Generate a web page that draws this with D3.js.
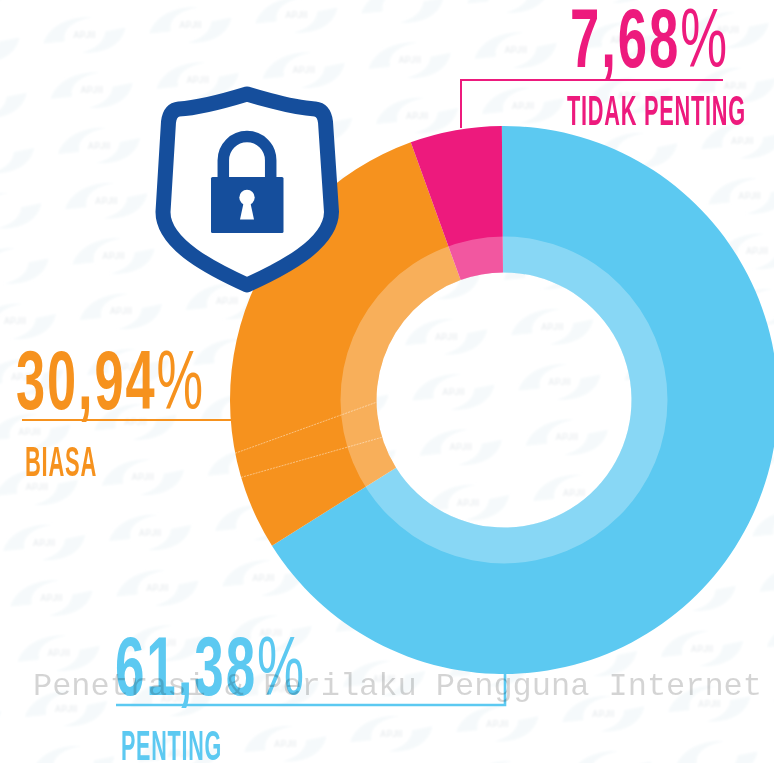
<!DOCTYPE html>
<head>
  <meta charset="utf-8">
  <script src="https://d3js.org/d3.v7.min.js"></script>
  <style>
    html, body { margin: 0; padding: 0; background: #fff; overflow: hidden; }
    svg { display: block; width: 774px; height: 763px; }
  </style>
</head>

<body>
  <svg viewBox="0 0 774 763"></svg>

  <script>
    const width = 774;
    const height = 763;

    // what the picture prints
    const categories = ['PENTING', 'BIASA', 'TIDAK PENTING'];
    const valueLabels = ['61,38', '30,94', '7,68'];
    const sliceShares = [66.2, 28.4, 5.4];
    const colors = ['#5cc9f1', '#f6921e', '#ed1a7d'];
    // seams inside the orange slice: [outer angle, inner angle] in degrees
    const seams = [[258.8, 269], [253.6, 253]];

    const centerX = 504;
    const centerY = 400;
    const outerRadius = 274;
    const ringRadius = 163.5;
    const innerRadius = 127.5;
    const startDeg = -0.45;

    const svg = d3.select('svg');
    const toRad = d => d * Math.PI / 180;

    /*****************************************************
    ** background watermark
    ******************************************************/

    const defs = svg.append('defs');
    defs.append('filter').attr('id', 'soft')
      .append('feGaussianBlur').attr('stdDeviation', 0.8);

    const logo = defs.append('g').attr('id', 'logo');
    logo.append('path')
      .attr('d', 'M-41,9 C-36,-8 -15,-19 8,-17 C-8,-15 -20,-7 -20,3 L-20,7 Z')
      .attr('fill', '#f5f9fb');
    logo.append('path')
      .attr('d', 'M41,-7 C38,10 20,20 -3,18 C10,15 20,8 21,-3 Z')
      .attr('fill', '#f5f9fb');

    const marks = [];
    d3.range(-8, 9).forEach(i => {
      d3.range(-4, 14).forEach(j => {
        const x = 99 + i * 106 + j * 7.3;
        const y = 145 - i * 10 + j * 55.3;
        if (x > -50 && x < width + 50 && y > -30 && y < height + 30) marks.push({x, y});
      });
    });

    const watermark = svg.append('g').attr('filter', 'url(#soft)').selectAll('g')
      .data(marks).enter().append('g')
      .attr('transform', d => `translate(${d.x},${d.y})`);
    watermark.append('use').attr('href', '#logo');

    // logo lettering only where it is not cut by the page edge or hidden under the orange and blue
    const showsLettering = d => {
      const r = Math.hypot(d.x - centerX, d.y - centerY);
      return d.x > 14 && d.x < width - 14 && d.y > 8 && d.y < height - 8
        && (r < innerRadius - 10 || r > outerRadius + 10);
    };
    watermark.filter(showsLettering).append('text')
      .attr('text-anchor', 'middle')
      .attr('y', 3.5)
      .attr('font-family', 'Roboto, sans-serif')
      .attr('font-weight', 700)
      .attr('font-size', 9.5)
      .attr('fill', '#edf0f2')
      .text('APJII');

    /*****************************************************
    ** donut
    ******************************************************/

    const pie = d3.pie().sort(null)
      .startAngle(toRad(startDeg))
      .endAngle(toRad(startDeg + 360));
    const slices = pie(sliceShares);

    const donut = svg.append('g').attr('transform', `translate(${centerX},${centerY})`);

    donut.selectAll('path.slice')
      .data(slices).enter().append('path')
      .attr('class', 'slice')
      .attr('d', d3.arc().innerRadius(innerRadius).outerRadius(outerRadius))
      .attr('fill', (d, i) => colors[i]);

    // lighter ring on top of the slices
    donut.append('path')
      .attr('d', d3.arc().innerRadius(innerRadius).outerRadius(ringRadius).startAngle(0).endAngle(2 * Math.PI)())
      .attr('fill', '#fff')
      .attr('fill-opacity', 0.27);

    const seamLine = d3.lineRadial().angle(d => toRad(d[0])).radius(d => d[1]);
    donut.selectAll('path.seam')
      .data(seams).enter().append('path')
      .attr('class', 'seam')
      .attr('d', d => seamLine([[d[0], outerRadius], [d[1], innerRadius]]))
      .attr('fill', 'none')
      .attr('stroke', '#fff')
      .attr('stroke-opacity', 0.55)
      .attr('stroke-width', 0.8)
      .attr('stroke-dasharray', '2 1');

    /*****************************************************
    ** leader lines and labels
    ******************************************************/

    const leaders = [
      {color: colors[0], width: 2.6, d: 'M116,705 H505 V674'},
      {color: colors[1], width: 2, d: 'M22,420 H231'},
      {color: colors[2], width: 2, d: 'M461,128 V80 H723'}
    ];
    svg.append('g').selectAll('path')
      .data(leaders).enter().append('path')
      .attr('d', d => d.d)
      .attr('fill', 'none')
      .attr('stroke', d => d.color)
      .attr('stroke-width', d => d.width);

    // x, baseline and width of each label, in category order
    const valuePos = [[115, 695, 191], [16, 409, 189], [570, 67, 159]];
    const namePos = [[121, 760, 101], [25, 476, 72], [567, 125, 179]];

    const narrow = '"Liberation Sans Narrow", "Liberation Sans", sans-serif';

    const labels = svg.append('g').selectAll('g')
      .data(categories).enter().append('g')
      .attr('fill', (d, i) => colors[i])
      .attr('font-family', narrow)
      .attr('font-weight', 700);

    const valueText = labels.append('text')
      .attr('x', (d, i) => valuePos[i][0])
      .attr('y', (d, i) => valuePos[i][1])
      .attr('textLength', (d, i) => valuePos[i][2])
      .attr('lengthAdjust', 'spacingAndGlyphs')
      .attr('letter-spacing', 3)
      .attr('font-size', 83);
    valueText.append('tspan').text((d, i) => valueLabels[i]);
    valueText.append('tspan').attr('font-weight', 400).text('%');

    labels.append('text')
      .attr('x', (d, i) => namePos[i][0])
      .attr('y', (d, i) => namePos[i][1])
      .attr('textLength', (d, i) => namePos[i][2])
      .attr('lengthAdjust', 'spacingAndGlyphs')
      .attr('letter-spacing', 1.5)
      .attr('font-size', 43)
      .text(d => d);

    /*****************************************************
    ** shield and padlock
    ******************************************************/

    const navy = '#154e9c';
    const shield = svg.append('g');

    shield.append('path')
      .attr('d', 'M247,94 C270,101 295,108 315,109 Q324,110 325.5,122 L331.5,212 C331,245 280,270 247,285 C214,270 163,245 163,212 L168.5,122 Q170,110 179,109 C199,108 224,101 247,94 Z')
      .attr('fill', '#fff')
      .attr('stroke', navy)
      .attr('stroke-width', 15)
      .attr('stroke-linejoin', 'round');

    shield.append('path')
      .attr('d', 'M223.3,180 V160.3 A23.7,23.8 0 0 1 270.7,160.3 V180')
      .attr('fill', 'none')
      .attr('stroke', navy)
      .attr('stroke-width', 11.5);

    shield.append('rect')
      .attr('x', 211).attr('y', 177).attr('width', 72.5).attr('height', 56).attr('rx', 1.5)
      .attr('fill', navy);

    shield.append('circle')
      .attr('cx', 247).attr('cy', 197.5).attr('r', 7.7)
      .attr('fill', '#fff');

    shield.append('path')
      .attr('d', 'M244,201 H250 L254,219.5 H240 Z')
      .attr('fill', '#fff');

    /*****************************************************
    ** site watermark across the bottom
    ******************************************************/

    svg.append('text')
      .attr('x', 33)
      .attr('y', 695)
      .attr('font-family', '"Liberation Mono", monospace')
      .attr('font-size', 32)
      .attr('textLength', 729)
      .attr('fill', '#000')
      .attr('fill-opacity', 0.17)
      .text('Penetrasi & Perilaku Pengguna Internet');
  </script>
</body>
